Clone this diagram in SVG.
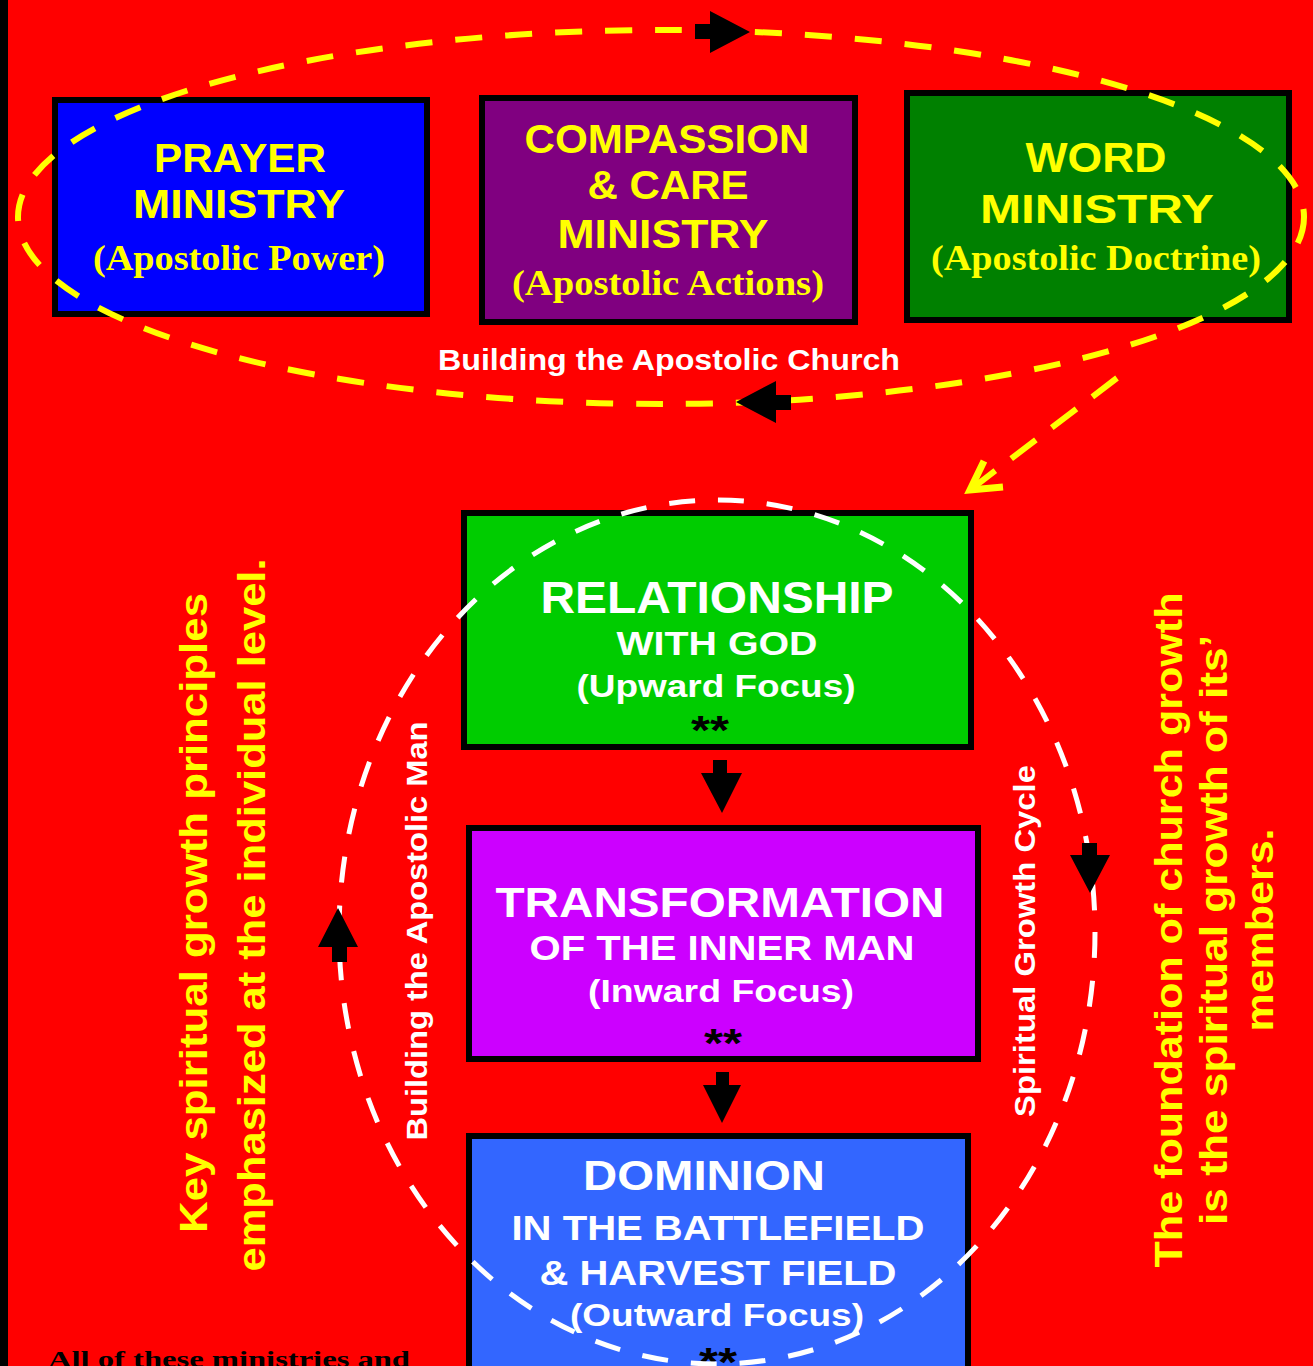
<svg xmlns="http://www.w3.org/2000/svg" width="1313" height="1366" viewBox="0 0 1313 1366">
<style>
.box{stroke:#000;stroke-width:6}
.h{font-family:"Liberation Sans",Arial,sans-serif;font-weight:bold;text-anchor:middle}
.s{font-family:"Liberation Serif","Times New Roman",serif;font-weight:bold;text-anchor:middle}
.y{fill:#FFFF00}
.w{fill:#FFFFFF}
.k{fill:#000000}
.arr{fill:#000}
</style>
<rect x="0" y="0" width="1313" height="1366" fill="#FF0000"/>
<rect x="0" y="0" width="8" height="1366" fill="#000"/>

<g id="prayer">
<rect class="box" x="55" y="100" width="372" height="214" fill="#0000FF"/>
<text class="h y" x="240" y="172" font-size="40" textLength="172" lengthAdjust="spacingAndGlyphs">PRAYER</text>
<text class="h y" x="239" y="218" font-size="40" textLength="212" lengthAdjust="spacingAndGlyphs">MINISTRY</text>
<text class="s y" x="239" y="270" font-size="36" textLength="292" lengthAdjust="spacingAndGlyphs">(Apostolic Power)</text>
</g>
<g id="compassion">
<rect class="box" x="482" y="98" width="373" height="224" fill="#800080"/>
<text class="h y" x="667" y="153" font-size="41" textLength="285" lengthAdjust="spacingAndGlyphs">COMPASSION</text>
<text class="h y" x="668" y="199" font-size="41" textLength="161" lengthAdjust="spacingAndGlyphs">&amp; CARE</text>
<text class="h y" x="663" y="248" font-size="41" textLength="211" lengthAdjust="spacingAndGlyphs">MINISTRY</text>
<text class="s y" x="668" y="295" font-size="36" textLength="312" lengthAdjust="spacingAndGlyphs">(Apostolic Actions)</text>
</g>
<g id="word">
<rect class="box" x="907" y="93" width="382" height="227" fill="#008000"/>
<text class="h y" x="1096" y="172" font-size="43" textLength="141" lengthAdjust="spacingAndGlyphs">WORD</text>
<text class="h y" x="1097" y="223" font-size="41" textLength="234" lengthAdjust="spacingAndGlyphs">MINISTRY</text>
<text class="s y" x="1096" y="270" font-size="35" textLength="330" lengthAdjust="spacingAndGlyphs">(Apostolic Doctrine)</text>
</g>

<g id="relationship">
<rect class="box" x="464" y="513" width="507" height="234" fill="#00CC00"/>
<text class="h w" x="717" y="613" font-size="45" textLength="353" lengthAdjust="spacingAndGlyphs">RELATIONSHIP</text>
<text class="h w" x="717" y="655" font-size="34" textLength="201" lengthAdjust="spacingAndGlyphs">WITH GOD</text>
<text class="h w" x="716" y="697" font-size="31" textLength="279" lengthAdjust="spacingAndGlyphs">(Upward Focus)</text>
<text class="h k" x="710" y="744" font-size="40" textLength="38" lengthAdjust="spacingAndGlyphs">**</text>
</g>
<g id="transformation">
<rect class="box" x="469" y="828" width="509" height="231" fill="#CC00FF"/>
<text class="h w" x="720" y="917" font-size="42" textLength="449" lengthAdjust="spacingAndGlyphs">TRANSFORMATION</text>
<text class="h w" x="722" y="960" font-size="35" textLength="385" lengthAdjust="spacingAndGlyphs">OF THE INNER MAN</text>
<text class="h w" x="721" y="1002" font-size="31" textLength="266" lengthAdjust="spacingAndGlyphs">(Inward Focus)</text>
<text class="h k" x="723" y="1057" font-size="40" textLength="38" lengthAdjust="spacingAndGlyphs">**</text>
</g>
<g id="dominion">
<rect class="box" x="469" y="1136" width="499" height="250" fill="#3366FF"/>
<text class="h w" x="704" y="1190" font-size="42" textLength="242" lengthAdjust="spacingAndGlyphs">DOMINION</text>
<text class="h w" x="718" y="1240" font-size="35" textLength="413" lengthAdjust="spacingAndGlyphs">IN THE BATTLEFIELD</text>
<text class="h w" x="718" y="1285" font-size="35" textLength="357" lengthAdjust="spacingAndGlyphs">&amp; HARVEST FIELD</text>
<text class="h w" x="717" y="1326" font-size="31" textLength="294" lengthAdjust="spacingAndGlyphs">(Outward Focus)</text>
<text class="h k" x="718" y="1376" font-size="40" textLength="38" lengthAdjust="spacingAndGlyphs">**</text>
</g>

<g id="connectors">
<ellipse cx="661" cy="217" rx="643" ry="187" fill="none" stroke="#FFFF00" stroke-width="6" stroke-dasharray="27 23"/>
<polygon class="arr" points="695,24 710,24 710,11 750,32 710,53 710,39 695,39"/>
<polygon class="arr" points="736,402 776,381 776,395 791,395 791,410 776,410 776,423"/>
<line x1="1117" y1="378" x2="970" y2="490" stroke="#FFFF00" stroke-width="6" stroke-dasharray="31 20"/>
<path d="M984,461 L970,490 L1003,487" fill="none" stroke="#FFFF00" stroke-width="7" stroke-linejoin="miter"/>
<ellipse cx="717" cy="932" rx="378" ry="432" fill="none" stroke="#FFFFFF" stroke-width="5" stroke-dasharray="26 23"/>
<polygon class="arr" points="338,908 358,947 347,947 347,962 332,962 332,947 318,947"/>
<polygon class="arr" points="1082,843 1097,843 1097,855 1110,855 1090,893 1070,855 1082,855"/>
<polygon class="arr" points="713,760 727,760 727,773 742,773 722,813 701,773 713,773"/>
<polygon class="arr" points="716,1072 729,1072 729,1085 741,1085 722,1123 703,1085 716,1085"/>
</g>

<g id="labels">
<text class="h w" x="669" y="370" font-size="29" textLength="462" lengthAdjust="spacingAndGlyphs">Building the Apostolic Church</text>
<text class="h w" transform="translate(427,931) rotate(-90)" font-size="30" textLength="419" lengthAdjust="spacingAndGlyphs">Building the Apostolic Man</text>
<text class="h w" transform="translate(1035,941) rotate(-90)" font-size="30" textLength="352" lengthAdjust="spacingAndGlyphs">Spiritual Growth Cycle</text>
<text class="h y" transform="translate(207,913) rotate(-90)" font-size="39" textLength="640" lengthAdjust="spacingAndGlyphs">Key spiritual growth principles</text>
<text class="h y" transform="translate(265,915) rotate(-90)" font-size="39" textLength="713" lengthAdjust="spacingAndGlyphs">emphasized at the individual level.</text>
<text class="h y" transform="translate(1182,930) rotate(-90)" font-size="39" textLength="675" lengthAdjust="spacingAndGlyphs">The foundation of church growth</text>
<text class="h y" transform="translate(1227,930) rotate(-90)" font-size="39" textLength="590" lengthAdjust="spacingAndGlyphs">is the spiritual growth of its’</text>
<text class="h y" transform="translate(1273,930) rotate(-90)" font-size="39" textLength="203" lengthAdjust="spacingAndGlyphs">members.</text>
<text font-family="'Liberation Serif','Times New Roman',serif" font-weight="bold" font-size="24" fill="#000" x="48" y="1367" textLength="362" lengthAdjust="spacingAndGlyphs">All  of  these ministries  and</text>
</g>
</svg>
